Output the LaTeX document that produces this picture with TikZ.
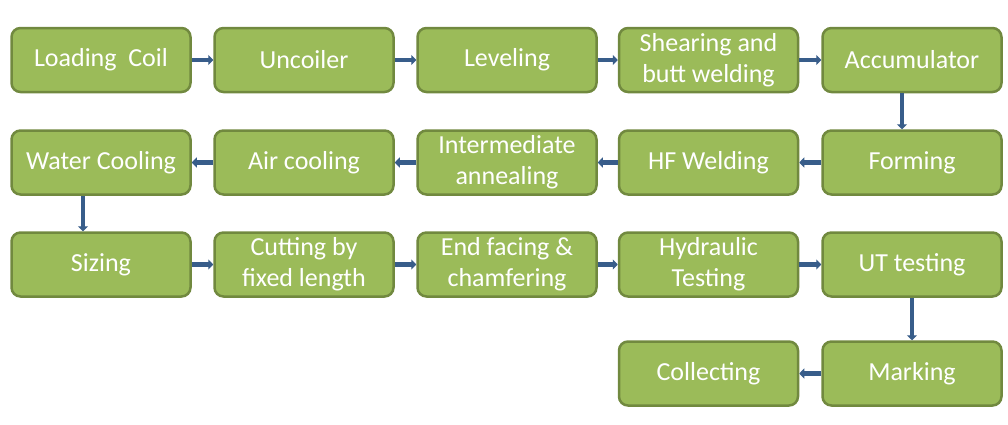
\documentclass[tikz,border=0pt]{standalone}
\usepackage{fontspec}
\setmainfont{Carlito}
\usetikzlibrary{arrows.meta}
\definecolor{stepgreen}{HTML}{9BBB59}
\definecolor{stepedge}{HTML}{71893F}
\definecolor{flowblue}{HTML}{385D8A}
\begin{document}
\begin{tikzpicture}[x=1pt, y=-1pt,
  stepbox/.style={draw=stepedge, line width=2.5pt, fill=stepgreen, rounded corners=9pt, minimum width=179pt, minimum height=64pt, text=white, align=center, inner sep=2pt, font=\fontsize{26}{31}\selectfont},
  flow/.style={draw=flowblue, line width=4.5pt, -{Triangle[width=10pt,length=5pt]}}]
\useasboundingbox (0,0) rectangle (1008,424);
% row 1
\node[stepbox] (load) at (101,60) {Loading~~Coil};
\node[stepbox] (uncoil) at (304,60) {Uncoiler};
\node[stepbox] (level) at (507,60) {Leveling};
\node[stepbox] (shear) at (708.5,60) {Shearing and\\butt welding};
\node[stepbox] (accu) at (912,60) {Accumulator};
% row 2
\node[stepbox] (form) at (912,162.5) {Forming};
\node[stepbox] (hfweld) at (708.5,162.5) {HF Welding};
\node[stepbox] (anneal) at (507,162.5) {Intermediate\\annealing};
\node[stepbox] (aircool) at (304,162.5) {Air cooling};
\node[stepbox] (watercool) at (101,162.5) {Water Cooling};
% row 3
\node[stepbox] (size) at (101,264.5) {Sizing};
\node[stepbox] (cut) at (304,264.5) {Cutting by\\fixed length};
\node[stepbox] (endface) at (507,264.5) {End facing \&\\chamfering};
\node[stepbox] (hydro) at (708.5,264.5) {Hydraulic\\Testing};
\node[stepbox] (ut) at (912,264.5) {UT testing};
% row 4
\node[stepbox] (mark) at (912,373.5) {Marking};
\node[stepbox] (collect) at (708.5,373.5) {Collecting};
% connectors
\draw[flow] (load) -- (uncoil);
\draw[flow] (uncoil) -- (level);
\draw[flow] (level) -- (shear);
\draw[flow] (shear) -- (accu);
\draw[flow] ([xshift=-10pt]accu.south) -- ([xshift=-10pt]form.north);
\draw[flow] (form) -- (hfweld);
\draw[flow] (hfweld) -- (anneal);
\draw[flow] (anneal) -- (aircool);
\draw[flow] (aircool) -- (watercool);
\draw[flow] ([xshift=-18pt]watercool.south) -- ([xshift=-18pt]size.north);
\draw[flow] (size) -- (cut);
\draw[flow] (cut) -- (endface);
\draw[flow] (endface) -- (hydro);
\draw[flow] (hydro) -- (ut);
\draw[flow] (ut) -- (mark);
\draw[flow] (mark) -- (collect);
\end{tikzpicture}
\end{document}
